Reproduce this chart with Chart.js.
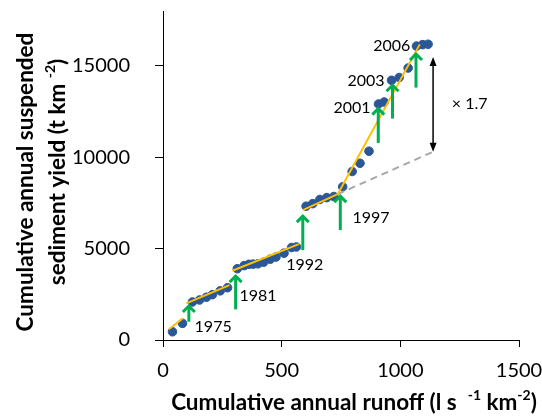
<!DOCTYPE html>
<html>
<head>
<meta charset="utf-8">
<script src="https://cdn.jsdelivr.net/npm/chart.js@4.4.0/dist/chart.umd.min.js"></script>
<style>
  html, body { margin: 0; padding: 0; background: #fff; }
  #wrap { width: 542px; height: 416px; }
</style>
</head>
<body>
<div id="wrap"><canvas id="chart" width="542" height="416"></canvas></div>
<script>
// Yearly cumulative values, 1973-2008
const runoff = [40, 82, 124, 154, 183, 208, 241, 272, 313, 342, 362, 380, 400, 424, 452, 476, 510, 542, 562,
                603, 631, 661, 690, 720, 757, 797, 830, 868, 908, 932, 963, 995, 1033, 1068, 1094, 1117];
const sediment = [450, 910, 2080, 2190, 2340, 2480, 2690, 2860, 3900, 4070, 4140, 4150, 4170, 4260, 4420, 4540, 4750, 5060, 5090,
                  7320, 7460, 7690, 7790, 7850, 8380, 9220, 9670, 10330, 12910, 13020, 14210, 14360, 14880, 16080, 16160, 16180];

// Piecewise trend lines (start / end points)
const trendStartX = [25, 98, 292, 589, 736];
const trendStartY = [585, 2005, 3787, 7104, 7978];
const trendEndX = [84, 280, 572, 736, 1082];
const trendEndY = [1186, 3005, 5246, 7978, 16175];

// Extension of the 1992-1996 trend
const extendX = [736, 1138];
const extendY = [7978, 10300];

// Step changes marked with arrows
const stepYears = ['1975', '1981', '1992', '1997', '2001', '2003', '2006'];
const stepX = [109, 306, 589, 747, 907, 967, 1066];
const stepFrom = [1000, 1678, 4918, 6011, 10781, 12115, 13809];
const stepTo = [1913, 3552, 6831, 7923, 12716, 13989, 15699];
const stepLabelX = [133, 322, 519, 798, 718, 777, 886];
const stepLabelY = [710, 2421, 4098, 6683, 12716, 14169, 16120];

// Ratio between trends at the end of the record
const ratioX = 1138;
const ratioFrom = 10300;
const ratioTo = 15480;
const ratioText = '\u00d7 1.7';
const ratioLabelX = 1217;
const ratioLabelY = 12900;

const xTicks = [0, 500, 1000, 1500];
const yTicks = [0, 5000, 10000, 15000];

const FONT = 'Lato, "Liberation Sans", sans-serif';

function drawRich(ctx, parts, size, cx, cy) {
  const supSize = Math.round(size * 0.62);
  const setFont = p => { ctx.font = `bold ${p.sup ? supSize : size}px ${FONT}`; };
  let total = 0;
  parts.forEach(p => { setFont(p); total += ctx.measureText(p.t).width; });
  let px = cx - total / 2;
  parts.forEach(p => {
    setFont(p);
    ctx.fillText(p.t, px, p.sup ? cy - size * 0.32 : cy);
    px += ctx.measureText(p.t).width;
  });
}

const annotations = {
  id: 'annotations',
  afterDatasetsDraw(chart) {
    const { ctx, scales: { x, y } } = chart;
    ctx.save();

    // green step arrows
    ctx.strokeStyle = '#00b050';
    ctx.lineWidth = 3;
    stepX.forEach((v, i) => {
      const px = x.getPixelForValue(v);
      const y0 = y.getPixelForValue(stepFrom[i]);
      const y1 = y.getPixelForValue(stepTo[i]);
      ctx.beginPath();
      ctx.moveTo(px, y0);
      ctx.lineTo(px, y1 + 1);
      ctx.stroke();
      ctx.beginPath();
      ctx.moveTo(px - 6, y1 + 7);
      ctx.lineTo(px, y1 + 1);
      ctx.lineTo(px + 6, y1 + 7);
      ctx.stroke();
    });

    // year labels
    ctx.fillStyle = '#000';
    ctx.font = `16px ${FONT}`;
    ctx.textAlign = 'left';
    ctx.textBaseline = 'middle';
    stepYears.forEach((t, i) => {
      ctx.fillText(t, x.getPixelForValue(stepLabelX[i]), y.getPixelForValue(stepLabelY[i]));
    });

    // double-headed ratio arrow
    const rx = x.getPixelForValue(ratioX);
    const ra = y.getPixelForValue(ratioFrom);
    const rb = y.getPixelForValue(ratioTo);
    ctx.strokeStyle = '#000';
    ctx.lineWidth = 1.5;
    ctx.beginPath();
    ctx.moveTo(rx, ra - 6);
    ctx.lineTo(rx, rb + 6);
    ctx.stroke();
    ctx.beginPath();
    ctx.moveTo(rx, rb); ctx.lineTo(rx - 3.5, rb + 9); ctx.lineTo(rx + 3.5, rb + 9); ctx.closePath();
    ctx.moveTo(rx, ra); ctx.lineTo(rx - 3.5, ra - 9); ctx.lineTo(rx + 3.5, ra - 9); ctx.closePath();
    ctx.fill();
    ctx.fillText(ratioText, x.getPixelForValue(ratioLabelX), y.getPixelForValue(ratioLabelY));

    ctx.restore();
  },
  afterDraw(chart) {
    const { ctx } = chart;
    ctx.save();
    ctx.fillStyle = '#000';
    ctx.textAlign = 'left';
    ctx.textBaseline = 'middle';

    drawRich(ctx, [
      { t: 'Cumulative annual runoff (l s  ' }, { t: '-1', sup: true },
      { t: ' km' }, { t: '-2', sup: true }, { t: ')' }
    ], 22.5, 354, 403);

    ctx.translate(26, 182);
    ctx.rotate(-Math.PI / 2);
    drawRich(ctx, [{ t: 'Cumulative annual suspended' }], 22.5, 0, 0);
    ctx.rotate(Math.PI / 2);
    ctx.translate(32, -10);
    ctx.rotate(-Math.PI / 2);
    drawRich(ctx, [{ t: 'sediment yield (t km ' }, { t: '-2', sup: true }, { t: ')' }], 22.5, 0, 0);
    ctx.restore();
  }
};

const datasets = [{
  data: runoff.map((v, i) => ({ x: v, y: sediment[i] })),
  backgroundColor: '#2b5797',
  borderColor: '#2b5797',
  pointRadius: 4.3,
  showLine: false,
  order: 3
}];
trendStartX.forEach((v, i) => {
  datasets.push({
    data: [{ x: v, y: trendStartY[i] }, { x: trendEndX[i], y: trendEndY[i] }],
    borderColor: '#ffc000',
    borderWidth: 2,
    pointRadius: 0,
    showLine: true,
    order: 1
  });
});
datasets.push({
  data: extendX.map((v, i) => ({ x: v, y: extendY[i] })),
  borderColor: '#a6a6a6',
  borderWidth: 2,
  borderDash: [7, 5],
  pointRadius: 0,
  showLine: true,
  order: 2
});

new Chart(document.getElementById('chart'), {
  type: 'scatter',
  data: { datasets },
  options: {
    responsive: false,
    animation: false,
    layout: { padding: { left: 0, top: 11, right: 23, bottom: 0 } },
    plugins: { legend: { display: false }, tooltip: { enabled: false } },
    scales: {
      x: {
        type: 'linear',
        min: 0,
        max: 1500,
        afterBuildTicks: s => { s.ticks = xTicks.map(v => ({ value: v })); },
        afterFit: s => { s.height = 76; s.paddingLeft = 0; s.paddingRight = 0; },
        grid: { display: true, drawOnChartArea: false, drawTicks: true, tickLength: 7, color: '#000', lineWidth: 1 },
        border: { color: '#000', width: 1 },
        ticks: { color: '#000', padding: 12, maxRotation: 0, font: { family: FONT, size: 20 }, callback: v => String(v) }
      },
      y: {
        type: 'linear',
        min: 0,
        max: 18000,
        afterBuildTicks: s => { s.ticks = yTicks.map(v => ({ value: v })); },
        afterFit: s => { s.width = 163; s.paddingTop = 0; s.paddingBottom = 0; },
        grid: { display: true, drawOnChartArea: false, drawTicks: true, tickLength: 8, color: '#000', lineWidth: 1 },
        border: { color: '#000', width: 1 },
        ticks: { color: '#000', padding: 25, font: { family: FONT, size: 20 }, callback: v => String(v) }
      }
    }
  },
  plugins: [annotations]
});
</script>
</body>
</html>
